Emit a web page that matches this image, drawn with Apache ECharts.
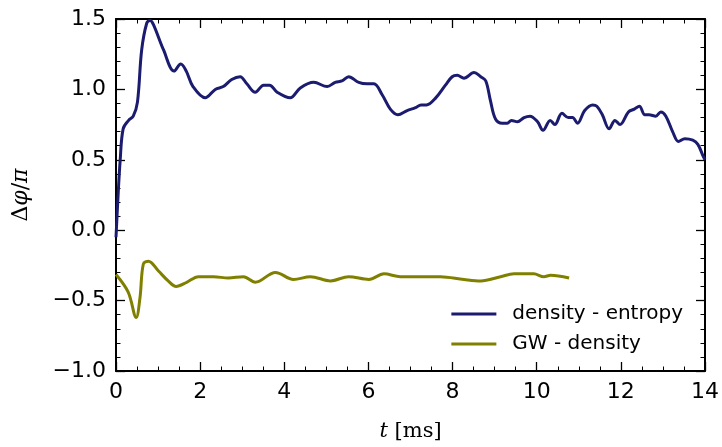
<!DOCTYPE html>
<html><head><meta charset="utf-8">
<script src="https://cdn.jsdelivr.net/npm/echarts@6/dist/echarts.min.js"></script>
<style>html,body{margin:0;padding:0;background:#fff}#c{width:722px;height:447px}</style>
</head><body><div id="c"></div>
<script>
const densEntT = [0,0.05,0.1,0.17,0.3,0.41,0.51,0.61,0.73,0.81,0.89,1.13,1.38,1.54,1.67,1.83,2.12,2.36,2.55,2.75,2.95,3.11,3.31,3.51,3.65,3.83,4.14,4.38,4.7,5.02,5.21,5.37,5.53,5.77,5.97,6.13,6.33,6.52,6.7,6.92,7.12,7.25,7.38,7.6,7.83,7.99,8.11,8.27,8.51,8.67,8.79,8.9,9.02,9.18,9.3,9.4,9.54,9.7,9.84,10.02,10.15,10.32,10.43,10.6,10.75,10.85,10.97,11.14,11.33,11.43,11.56,11.72,11.86,11.98,12.18,12.32,12.44,12.57,12.67,12.83,12.95,13.07,13.23,13.37,13.52,13.71,13.83,13.95,14.0];
const densEntV = [-0.05,0.25,0.5,0.72,0.78,0.81,0.91,1.28,1.47,1.49,1.46,1.28,1.13,1.18,1.13,1.02,0.94,1.0,1.02,1.07,1.09,1.04,0.98,1.03,1.03,0.98,0.94,1.01,1.05,1.02,1.05,1.06,1.09,1.05,1.04,1.04,0.96,0.86,0.82,0.85,0.87,0.89,0.89,0.94,1.03,1.09,1.1,1.08,1.12,1.09,1.06,0.92,0.79,0.76,0.76,0.78,0.77,0.8,0.81,0.77,0.71,0.78,0.75,0.83,0.8,0.8,0.76,0.85,0.89,0.88,0.82,0.72,0.78,0.75,0.84,0.86,0.88,0.82,0.82,0.81,0.84,0.81,0.7,0.63,0.65,0.64,0.61,0.53,0.5];
const gwDensT = [0,0.29,0.48,0.57,0.65,0.77,1.01,1.24,1.43,1.68,1.96,2.32,2.67,3.03,3.31,3.79,4.22,4.62,5.1,5.53,6.01,6.37,6.76,7.32,7.71,8.27,8.67,9.14,9.46,9.93,10.17,10.33,10.77];
const gwDensV = [-0.315,-0.44,-0.62,-0.48,-0.24,-0.22,-0.29,-0.36,-0.4,-0.37,-0.33,-0.33,-0.34,-0.33,-0.37,-0.3,-0.35,-0.33,-0.36,-0.33,-0.35,-0.31,-0.33,-0.33,-0.33,-0.35,-0.36,-0.33,-0.31,-0.31,-0.33,-0.32,-0.34];
const xTicks = {min:0,max:14,interval:2};
const yTicks = {min:-1.0,max:1.5,interval:0.5};
const seriesNames = ['density - entropy','GW - density'];

const pair = (t,v)=>t.map((x,i)=>[x,v[i]]);
const fmtY = v => (v<0?'\u2212':'') + Math.abs(v).toFixed(1);
const lbl = {fontFamily:'DejaVu Sans',fontSize:22,color:'#000'};
const axLine = {show:true,onZero:false,lineStyle:{color:'#000',width:2}};
const majTick = {show:true,inside:true,length:9,lineStyle:{color:'#000',width:1.3}};
const minX = {show:true,splitNumber:4,length:4.5,lineStyle:{color:'#000',width:1}};
const minY = {show:true,splitNumber:5,length:4.5,lineStyle:{color:'#000',width:1}};
const nameStyle = {fontFamily:'DejaVu Serif',fontSize:21,color:'#000',rich:{i:{fontFamily:'DejaVu Serif',fontStyle:'italic',fontSize:21}}};
const chart = echarts.init(document.getElementById('c'),null,{renderer:'canvas'});
chart.setOption({
  backgroundColor:'#fff',
  animation:false,
  grid:{left:116,right:17,top:19,bottom:73},
  xAxis:[
    {type:'value',min:xTicks.min,max:xTicks.max,interval:xTicks.interval,position:'bottom',
      axisLine:axLine,axisTick:majTick,minorTick:minX,splitLine:{show:false},minorSplitLine:{show:false},
      axisLabel:Object.assign({margin:10},lbl),
      name:'{i|t} [ms]',nameLocation:'middle',nameGap:50,nameTextStyle:nameStyle},
    {type:'value',min:xTicks.min,max:xTicks.max,interval:xTicks.interval,position:'top',
      axisLine:axLine,axisTick:majTick,minorTick:minX,splitLine:{show:false},axisLabel:{show:false}}
  ],
  yAxis:[
    {type:'value',min:yTicks.min,max:yTicks.max,interval:yTicks.interval,position:'left',
      axisLine:axLine,axisTick:majTick,minorTick:minY,splitLine:{show:false},minorSplitLine:{show:false},
      axisLabel:Object.assign({margin:10,formatter:fmtY},lbl),
      name:'\u0394{i|\u03c6}/{i|\u03c0}',nameLocation:'middle',nameGap:84,nameRotate:90,
      nameTextStyle:Object.assign({},nameStyle,{fontSize:22,rich:{i:{fontFamily:'DejaVu Serif',fontStyle:'italic',fontSize:22}}})},
    {type:'value',min:yTicks.min,max:yTicks.max,interval:yTicks.interval,position:'right',
      axisLine:axLine,axisTick:majTick,minorTick:minY,splitLine:{show:false},axisLabel:{show:false}}
  ],
  legend:{
    show:true, right:34, top:299, orient:'vertical', itemGap:10,
    itemWidth:45, itemHeight:3, icon:'rect',
    textStyle:{fontFamily:'DejaVu Sans',fontSize:20,color:'#000',padding:[0,0,0,11]},
    data:seriesNames
  },
  series:[
    {name:seriesNames[0],type:'line',data:pair(densEntT,densEntV),smooth:0.35,showSymbol:false,
      lineStyle:{color:'#1b1b6f',width:3},itemStyle:{color:'#1b1b6f'}},
    {name:seriesNames[1],type:'line',data:pair(gwDensT,gwDensV),smooth:0.35,showSymbol:false,
      lineStyle:{color:'#808000',width:3},itemStyle:{color:'#808000'}}
  ]
});
</script></body></html>
